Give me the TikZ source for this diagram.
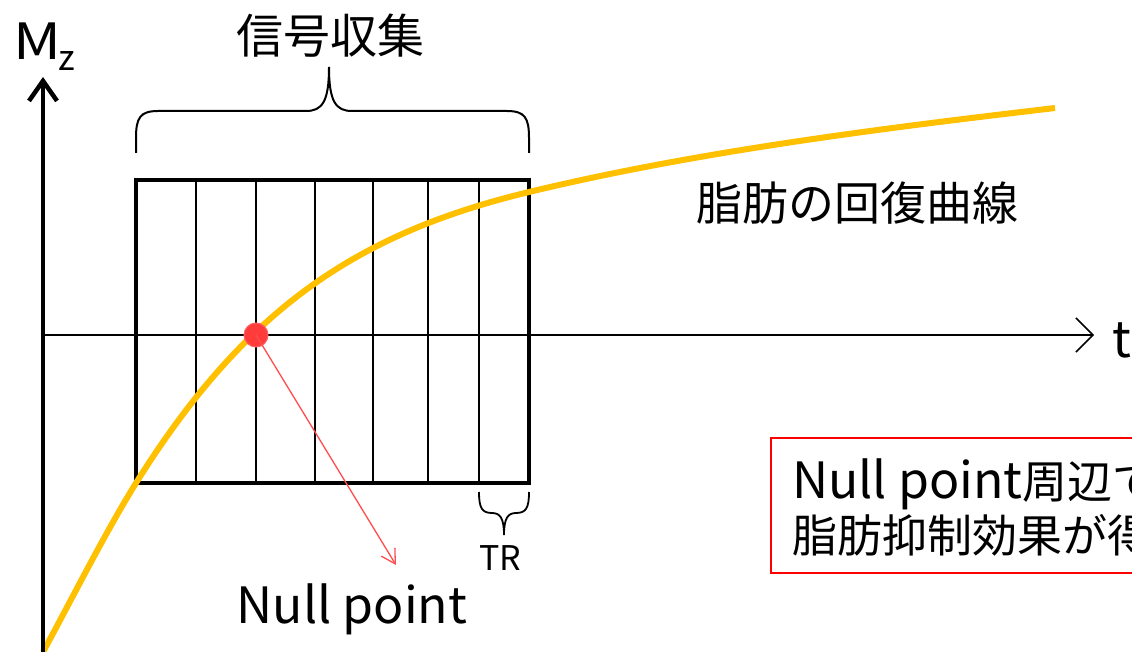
\documentclass[tikz,border=0pt]{standalone}
\usepackage{fontspec}
\setmainfont{Noto Sans CJK JP}
\usetikzlibrary{arrows.meta}
\definecolor{curveorange}{HTML}{FFC000}
\definecolor{arrowred}{HTML}{FF4D4D}
\definecolor{dotred}{HTML}{FF3B3B}
\tikzset{
  lbl/.style={inner sep=0pt, text=black},
  thinline/.style={line width=1.3pt, black},
  bracepath/.style={line width=2pt, black},
}
\newcommand{\latinbig}{\fontsize{50}{60}\selectfont}
\begin{document}
\begin{tikzpicture}[x=1pt,y=-1pt]
\useasboundingbox (0,0) rectangle (1132,652);
\clip (0,0) rectangle (1132,652);
\fill[white] (0,0) rectangle (1132,652);

% horizontal axis
\coordinate (hstart) at (43,335);
\coordinate (hend) at (1094,335);
\draw[line width=1.5pt, -{Straight Barb[length=17pt,width=34pt,line width=1.5pt]}] (hstart) -- (hend);
\node[lbl, anchor=base west, font=\fontsize{50}{60}\selectfont] (t) at (1112,357) {t};

% inner vertical lines
\foreach \x in {196,256,315,373,428,479}
  \draw[thinline] (\x,180) -- (\x,483);

% rectangle
\draw[line width=3.5pt, line join=miter] (136,180) rectangle (529,483);

% recovery curve
\draw[curveorange, line width=6pt]
  (43,652) .. controls (74,595) and (105,533) .. (136,483)
  .. controls (246,307) and (359,233) .. (529,192)
  .. controls (699,151) and (885,128) .. (1055,108);

% vertical axis
\coordinate (vstart) at (43,655);
\coordinate (vend) at (43,77);
\draw[line width=4.5pt, -{Straight Barb[length=20pt,width=28pt,line width=4.5pt]}] (vstart) -- (vend);
\node[lbl, anchor=base west, font=\fontsize{50}{60}\selectfont] (mz) at (13,60) {\scalebox{1.18}[1]{M}};
\node[lbl, anchor=base west, font=\fontsize{35}{40}\selectfont] (mzsub) at (58,71) {z};

% big brace
\draw[bracepath] (136,153) -- (136,138) .. controls (136,118) and (140,111) .. (158,111)
  -- (306,111) .. controls (322,111) and (329,102) .. (329,67)
  .. controls (329,102) and (336,111) .. (352,111)
  -- (507,111) .. controls (525,111) and (529,118) .. (529,138) -- (529,153);
\node[lbl, font=\fontsize{47}{56}\selectfont] (sig) at (330,36) {信号収集};

% TR brace
\draw[line width=1.8pt] (479,492) .. controls (479,508) and (482,513) .. (492,513)
  .. controls (500,513) and (504,518) .. (504,535)
  .. controls (504,518) and (508,513) .. (516,513)
  .. controls (526,513) and (529,508) .. (529,492);
\node[lbl, anchor=base, font=\fontsize{34}{40}\selectfont] (tr) at (500,570) {TR};

% curve label
\node[lbl, font=\fontsize{46}{56}\selectfont] (fat) at (857,203) {脂肪の回復曲線};

% null point
\node[circle, fill=dotred, draw=dotred!80, line width=1pt, minimum size=24pt, inner sep=0pt] (dot) at (256,335) {};
\coordinate (arrowend) at (396,565);
\draw[arrowred, line width=1.3pt, -{Straight Barb[length=14pt,width=16pt,line width=1.3pt]}] (dot.center) -- (arrowend);
\node[lbl, anchor=base, font=\latinbig] (np) at (352,623) {Null point};

% red box
\node[draw=red, line width=1.6pt, anchor=north west, minimum width=450pt, minimum height=135pt, inner sep=0pt] (box) at (770,437) {};
\node[lbl, anchor=base west, font=\fontsize{45}{54}\selectfont] (l1) at (792,498) {{\latinbig Null point}周辺で};
\node[lbl, anchor=base west, font=\fontsize{45}{54}\selectfont] (l2) at (792,552) {脂肪抑制効果が得られる};
\end{tikzpicture}
\end{document}
